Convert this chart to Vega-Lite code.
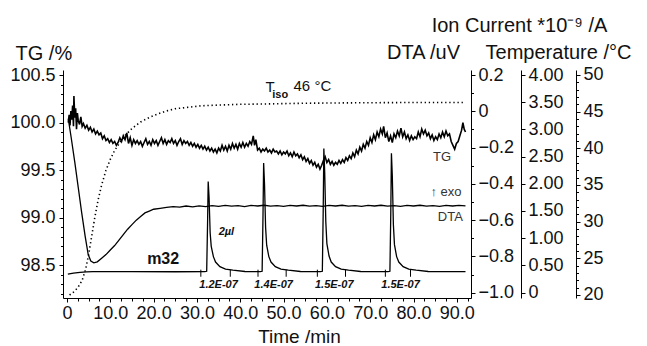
{
  "$schema": "https://vega.github.io/schema/vega-lite/v6.json",
  "width": 408,
  "height": 228,
  "autosize": {"type": "none"},
  "padding": {"left": 63, "top": 70, "right": 176, "bottom": 48},
  "background": "white",
  "config": {
    "view": {"stroke": null},
    "font": "Liberation Sans",
    "axis": {
      "grid": false,
      "domainColor": "#000",
      "domainWidth": 1,
      "tickColor": "#000",
      "tickWidth": 1,
      "labelColor": "#111",
      "titleColor": "#111",
      "labelFont": "Liberation Sans",
      "titleFont": "Liberation Sans",
      "titleFontWeight": "normal",
      "labelFontSize": 18,
      "titleFontSize": 20,
      "labelFlush": false,
      "labelOverlap": false
    }
  },
  "datasets": {
    "tg": [
      {"t":0.3,"v":100.00},{"t":0.5,"v":100.08},{"t":0.7,"v":99.97},{"t":0.9,"v":100.12},{"t":1.1,"v":100.03},{"t":1.3,"v":100.18},{"t":1.5,"v":99.96},{"t":1.6,"v":100.28},{"t":1.8,"v":100.05},{"t":2.0,"v":100.15},{"t":2.2,"v":99.93},{"t":2.4,"v":100.10},{"t":2.6,"v":100.02},{"t":2.9,"v":99.98},{"t":3.2,"v":100.06},{"t":3.5,"v":99.96},{"t":3.8,"v":99.99},{"t":4.2,"v":99.94},{"t":4.6,"v":99.97},{"t":5.0,"v":99.92},{"t":5.4,"v":99.95},{"t":5.8,"v":99.90},{"t":6.2,"v":99.93},{"t":6.6,"v":99.88},{"t":7.0,"v":99.91},{"t":7.4,"v":99.87},{"t":7.8,"v":99.89},{"t":8.2,"v":99.83},{"t":8.6,"v":99.86},{"t":9.0,"v":99.81},{"t":9.4,"v":99.83},{"t":9.8,"v":99.79},{"t":10.2,"v":99.82},{"t":10.6,"v":99.78},{"t":11.0,"v":99.80},{"t":11.4,"v":99.76},{"t":11.8,"v":99.79},{"t":12.2,"v":99.84},{"t":12.6,"v":99.80},{"t":13.0,"v":99.86},{"t":13.4,"v":99.82},{"t":13.8,"v":99.89},{"t":14.2,"v":99.78},{"t":14.6,"v":99.84},{"t":15.0,"v":99.76},{"t":15.4,"v":99.82},{"t":15.8,"v":99.78},{"t":16.2,"v":99.81},{"t":16.6,"v":99.77},{"t":17.0,"v":99.80},{"t":17.4,"v":99.75},{"t":17.8,"v":99.79},{"t":18.2,"v":99.83},{"t":18.6,"v":99.77},{"t":19.0,"v":99.80},{"t":19.4,"v":99.76},{"t":19.8,"v":99.82},{"t":20.2,"v":99.78},{"t":20.6,"v":99.81},{"t":21.0,"v":99.76},{"t":21.4,"v":99.80},{"t":21.8,"v":99.84},{"t":22.2,"v":99.78},{"t":22.6,"v":99.82},{"t":23.0,"v":99.77},{"t":23.4,"v":99.81},{"t":23.8,"v":99.79},{"t":24.2,"v":99.83},{"t":24.6,"v":99.78},{"t":25.0,"v":99.81},{"t":25.4,"v":99.76},{"t":25.8,"v":99.80},{"t":26.2,"v":99.83},{"t":26.6,"v":99.77},{"t":27.0,"v":99.81},{"t":27.4,"v":99.78},{"t":27.8,"v":99.80},{"t":28.2,"v":99.76},{"t":28.6,"v":99.79},{"t":29.0,"v":99.75},{"t":29.4,"v":99.78},{"t":29.8,"v":99.74},{"t":30.2,"v":99.77},{"t":30.6,"v":99.73},{"t":31.0,"v":99.76},{"t":31.4,"v":99.72},{"t":31.8,"v":99.75},{"t":32.2,"v":99.71},{"t":32.6,"v":99.74},{"t":33.0,"v":99.70},{"t":33.4,"v":99.73},{"t":33.8,"v":99.69},{"t":34.2,"v":99.72},{"t":34.6,"v":99.68},{"t":35.0,"v":99.73},{"t":35.4,"v":99.70},{"t":35.8,"v":99.76},{"t":36.2,"v":99.71},{"t":36.6,"v":99.75},{"t":37.0,"v":99.70},{"t":37.4,"v":99.76},{"t":37.8,"v":99.72},{"t":38.2,"v":99.78},{"t":38.6,"v":99.73},{"t":39.0,"v":99.77},{"t":39.4,"v":99.72},{"t":39.8,"v":99.78},{"t":40.2,"v":99.74},{"t":40.6,"v":99.79},{"t":41.0,"v":99.74},{"t":41.4,"v":99.78},{"t":41.8,"v":99.75},{"t":42.2,"v":99.80},{"t":42.6,"v":99.77},{"t":43.0,"v":99.86},{"t":43.3,"v":99.76},{"t":43.6,"v":99.82},{"t":44.0,"v":99.71},{"t":44.4,"v":99.73},{"t":44.8,"v":99.69},{"t":45.2,"v":99.72},{"t":45.6,"v":99.70},{"t":46.0,"v":99.73},{"t":46.4,"v":99.69},{"t":46.8,"v":99.71},{"t":47.2,"v":99.68},{"t":47.6,"v":99.72},{"t":48.0,"v":99.69},{"t":48.4,"v":99.70},{"t":48.8,"v":99.67},{"t":49.2,"v":99.70},{"t":49.6,"v":99.66},{"t":50.0,"v":99.69},{"t":50.4,"v":99.67},{"t":50.8,"v":99.70},{"t":51.2,"v":99.65},{"t":51.6,"v":99.68},{"t":52.0,"v":99.64},{"t":52.4,"v":99.69},{"t":52.8,"v":99.65},{"t":53.2,"v":99.67},{"t":53.6,"v":99.63},{"t":54.0,"v":99.66},{"t":54.4,"v":99.61},{"t":54.8,"v":99.64},{"t":55.2,"v":99.59},{"t":55.6,"v":99.62},{"t":56.0,"v":99.57},{"t":56.4,"v":99.60},{"t":56.8,"v":99.55},{"t":57.2,"v":99.58},{"t":57.6,"v":99.53},{"t":58.0,"v":99.56},{"t":58.4,"v":99.51},{"t":58.8,"v":99.55},{"t":59.2,"v":99.60},{"t":59.6,"v":99.64},{"t":60.0,"v":99.58},{"t":60.4,"v":99.61},{"t":60.8,"v":99.56},{"t":61.2,"v":99.59},{"t":61.6,"v":99.55},{"t":62.0,"v":99.58},{"t":62.4,"v":99.56},{"t":62.8,"v":99.60},{"t":63.2,"v":99.57},{"t":63.6,"v":99.61},{"t":64.0,"v":99.58},{"t":64.4,"v":99.63},{"t":64.8,"v":99.60},{"t":65.2,"v":99.65},{"t":65.6,"v":99.62},{"t":66.0,"v":99.68},{"t":66.4,"v":99.64},{"t":66.8,"v":99.71},{"t":67.2,"v":99.67},{"t":67.6,"v":99.74},{"t":68.0,"v":99.70},{"t":68.4,"v":99.77},{"t":68.8,"v":99.73},{"t":69.2,"v":99.80},{"t":69.6,"v":99.76},{"t":70.0,"v":99.84},{"t":70.4,"v":99.79},{"t":70.8,"v":99.87},{"t":71.2,"v":99.82},{"t":71.6,"v":99.90},{"t":72.0,"v":99.85},{"t":72.4,"v":99.93},{"t":72.8,"v":99.88},{"t":73.1,"v":99.96},{"t":73.5,"v":99.84},{"t":73.9,"v":99.89},{"t":74.3,"v":99.80},{"t":74.7,"v":99.86},{"t":75.1,"v":99.79},{"t":75.5,"v":99.88},{"t":75.9,"v":99.84},{"t":76.3,"v":99.91},{"t":76.7,"v":99.86},{"t":77.1,"v":99.94},{"t":77.5,"v":99.85},{"t":77.9,"v":99.90},{"t":78.3,"v":99.83},{"t":78.7,"v":99.87},{"t":79.1,"v":99.81},{"t":79.5,"v":99.86},{"t":79.9,"v":99.82},{"t":80.3,"v":99.85},{"t":80.7,"v":99.83},{"t":81.1,"v":99.90},{"t":81.5,"v":99.85},{"t":81.9,"v":99.93},{"t":82.3,"v":99.88},{"t":82.7,"v":99.92},{"t":83.1,"v":99.86},{"t":83.5,"v":99.89},{"t":83.9,"v":99.83},{"t":84.3,"v":99.87},{"t":84.7,"v":99.81},{"t":85.1,"v":99.85},{"t":85.5,"v":99.82},{"t":85.9,"v":99.88},{"t":86.3,"v":99.84},{"t":86.7,"v":99.90},{"t":87.1,"v":99.85},{"t":87.5,"v":99.91},{"t":87.9,"v":99.86},{"t":88.3,"v":99.88},{"t":88.7,"v":99.80},{"t":89.1,"v":99.76},{"t":89.5,"v":99.72},{"t":89.9,"v":99.78},{"t":90.3,"v":99.80},{"t":90.7,"v":99.86},{"t":91.1,"v":99.92},{"t":91.4,"v":100.00},{"t":91.7,"v":99.93},{"t":92.0,"v":99.90}
    ],
    "dta": [
      {"t":0.3,"v":-0.04},{"t":1.0,"v":-0.15},{"t":1.8,"v":-0.28},{"t":2.6,"v":-0.42},{"t":3.4,"v":-0.56},{"t":4.2,"v":-0.69},{"t":4.9,"v":-0.79},{"t":5.5,"v":-0.825},{"t":6.2,"v":-0.835},{"t":7.0,"v":-0.83},{"t":8.0,"v":-0.81},{"t":9.0,"v":-0.79},{"t":10.0,"v":-0.765},{"t":11.0,"v":-0.74},{"t":12.0,"v":-0.71},{"t":13.0,"v":-0.68},{"t":14.0,"v":-0.65},{"t":15.0,"v":-0.625},{"t":16.0,"v":-0.6},{"t":17.0,"v":-0.58},{"t":18.0,"v":-0.56},{"t":19.0,"v":-0.55},{"t":20.0,"v":-0.54},{"t":21.5,"v":-0.535},{"t":23.0,"v":-0.53},{"t":24.5,"v":-0.525},{"t":26.0,"v":-0.528},{"t":27.5,"v":-0.522},{"t":29.0,"v":-0.527},{"t":30.5,"v":-0.521},{"t":32.0,"v":-0.525},{"t":33.5,"v":-0.52},{"t":35.0,"v":-0.524},{"t":36.5,"v":-0.519},{"t":38.0,"v":-0.523},{"t":39.5,"v":-0.52},{"t":41.0,"v":-0.525},{"t":42.5,"v":-0.519},{"t":44.0,"v":-0.522},{"t":45.5,"v":-0.518},{"t":47.0,"v":-0.523},{"t":48.5,"v":-0.52},{"t":50.0,"v":-0.524},{"t":51.5,"v":-0.519},{"t":53.0,"v":-0.522},{"t":54.5,"v":-0.518},{"t":56.0,"v":-0.523},{"t":57.5,"v":-0.52},{"t":59.0,"v":-0.524},{"t":60.5,"v":-0.519},{"t":62.0,"v":-0.522},{"t":63.5,"v":-0.518},{"t":65.0,"v":-0.523},{"t":66.5,"v":-0.52},{"t":68.0,"v":-0.524},{"t":69.5,"v":-0.519},{"t":71.0,"v":-0.522},{"t":72.5,"v":-0.518},{"t":74.0,"v":-0.523},{"t":75.5,"v":-0.52},{"t":77.0,"v":-0.524},{"t":78.5,"v":-0.519},{"t":80.0,"v":-0.522},{"t":81.5,"v":-0.518},{"t":83.0,"v":-0.523},{"t":84.5,"v":-0.52},{"t":86.0,"v":-0.524},{"t":87.5,"v":-0.519},{"t":89.0,"v":-0.522},{"t":90.5,"v":-0.519},{"t":92.0,"v":-0.521}
    ],
    "temp": [
      {"t":0.6,"v":20.0},{"t":1.5,"v":20.4},{"t":2.5,"v":21.0},{"t":3.5,"v":22.0},{"t":4.3,"v":23.5},{"t":5.0,"v":25.5},{"t":5.7,"v":28.0},{"t":6.4,"v":30.5},{"t":7.2,"v":33.0},{"t":8.0,"v":35.0},{"t":9.0,"v":37.0},{"t":10.0,"v":38.5},{"t":11.0,"v":39.7},{"t":12.2,"v":40.8},{"t":13.5,"v":41.8},{"t":15.0,"v":42.7},{"t":17.0,"v":43.6},{"t":19.0,"v":44.2},{"t":21.0,"v":44.7},{"t":23.0,"v":45.1},{"t":25.0,"v":45.4},{"t":28.0,"v":45.6},{"t":31.0,"v":45.8},{"t":35.0,"v":45.9},{"t":40.0,"v":46.0},{"t":46.0,"v":46.05},{"t":55.0,"v":46.15},{"t":65.0,"v":46.2},{"t":80.0,"v":46.25},{"t":92.0,"v":46.25}
    ],
    "ion": [
      {"t":0.2,"v":0.34},{"t":1.5,"v":0.355},{"t":3.0,"v":0.372},{"t":4.5,"v":0.38},{"t":6.0,"v":0.383},{"t":15.0,"v":0.384},{"t":25.0,"v":0.382},{"t":31.8,"v":0.383},
      {"t":32.25,"v":0.39},{"t":32.45,"v":1.25},{"t":32.6,"v":2.04},{"t":32.8,"v":1.75},{"t":33.05,"v":1.1},{"t":33.3,"v":0.85},{"t":33.8,"v":0.66},{"t":34.3,"v":0.56},{"t":35.3,"v":0.475},{"t":36.6,"v":0.43},{"t":38.3,"v":0.41},{"t":41.1,"v":0.386},{"t":44.6,"v":0.383},
      {"t":45.05,"v":0.39},{"t":45.25,"v":1.4},{"t":45.4,"v":2.38},{"t":45.6,"v":2.0},{"t":45.85,"v":1.2},{"t":46.1,"v":0.87},{"t":46.6,"v":0.66},{"t":47.1,"v":0.56},{"t":48.1,"v":0.475},{"t":49.4,"v":0.43},{"t":51.1,"v":0.41},{"t":53.9,"v":0.386},{"t":58.5,"v":0.383},
      {"t":58.95,"v":0.39},{"t":59.15,"v":1.5},{"t":59.3,"v":2.65},{"t":59.5,"v":2.2},{"t":59.75,"v":1.3},{"t":60.0,"v":0.9},{"t":60.5,"v":0.67},{"t":61.0,"v":0.56},{"t":62.0,"v":0.475},{"t":63.3,"v":0.43},{"t":65.0,"v":0.41},{"t":67.8,"v":0.386},{"t":74.1,"v":0.383},
      {"t":74.55,"v":0.39},{"t":74.75,"v":1.45},{"t":74.9,"v":2.56},{"t":75.1,"v":2.15},{"t":75.35,"v":1.25},{"t":75.6,"v":0.88},{"t":76.1,"v":0.66},{"t":76.6,"v":0.56},{"t":77.6,"v":0.475},{"t":78.9,"v":0.43},{"t":80.6,"v":0.41},{"t":83.4,"v":0.386},{"t":92.0,"v":0.383}
    ],
    "ionlimits": [
      {"t":30.9},{"t":37.7},{"t":44.1},{"t":50.6},{"t":57.8},{"t":64.3},{"t":73.5},{"t":79.3}
    ],
    "peaklabels": [
      {"t":35.0,"v":0.138,"label":"1.2E-07"},
      {"t":47.7,"v":0.138,"label":"1.4E-07"},
      {"t":61.7,"v":0.138,"label":"1.5E-07"},
      {"t":77.0,"v":0.138,"label":"1.5E-07"}
    ],
    "ionnotes": [{"t":36.8,"v":1.11,"label":"2µl"}],
    "m32": [{"t":22.2,"v":0.616,"label":"m32"}],
    "curvenotes": [
      {"t":86.6,"v":99.64,"label":"TG"},
      {"t":87.5,"v":99.272,"label":"↑ exo"},
      {"t":88.5,"v":99.008,"label":"DTA"}
    ],
    "tiso_big": [
      {"t":45.8,"v":100.374,"label":"T"},
      {"t":52.3,"v":100.384,"label":"46 °C"}
    ],
    "tiso_sub": [{"t":47.4,"v":100.29,"label":"iso"}]
  },
  "encoding": {
    "x": {
      "field": "t",
      "type": "quantitative",
      "scale": {"domain": [-0.92, 93.27], "nice": false, "zero": false},
      "axis": {
        "values": [0,2.5,5,7.5,10,12.5,15,17.5,20,22.5,25,27.5,30,32.5,35,37.5,40,42.5,45,47.5,50,52.5,55,57.5,60,62.5,65,67.5,70,72.5,75,77.5,80,82.5,85,87.5,90,92.5],
        "labelExpr": "datum.value % 10 == 0 ? (datum.value == 0 ? '0' : format(datum.value, '.1f')) : ''",
        "tickSize": {"condition": {"test": "datum.value % 10 == 0", "value": 4}, "value": 3},
        "labelFontSize": 18,
        "labelPadding": 2,
        "title": "Time /min",
        "titleFontSize": 19,
        "titleX": 236,
        "titleY": 44,
        "titleAlign": "center",
        "titleBaseline": "alphabetic"
      }
    }
  },
  "layer": [
    {
      "data": {"name": "tg"},
      "mark": {"type": "line", "color": "#000", "strokeWidth": 1.6},
      "encoding": {
        "y": {
          "field": "v", "type": "quantitative",
          "scale": {"domain": [98.153, 100.553], "nice": false, "zero": false},
          "axis": {
            "orient": "left",
            "values": [98.2,98.3,98.4,98.5,98.6,98.7,98.8,98.9,99.0,99.1,99.2,99.3,99.4,99.5,99.6,99.7,99.8,99.9,100.0,100.1,100.2,100.3,100.4,100.5],
            "labelExpr": "abs(datum.value*2 - round(datum.value*2)) < 0.001 ? format(datum.value, '.1f') : ''",
            "tickSize": {"condition": {"test": "abs(datum.value*2 - round(datum.value*2)) < 0.001", "value": 4}, "value": 2.5},
            "labelPadding": 4,
            "title": "TG /%",
            "titleAngle": 0,
            "titleAlign": "left",
            "titleBaseline": "middle",
            "titleX": -48,
            "titleY": -17
          }
        }
      }
    },
    {
      "data": {"name": "dta"},
      "mark": {"type": "line", "color": "#000", "strokeWidth": 1.3},
      "encoding": {
        "y": {
          "field": "v", "type": "quantitative",
          "scale": {"domain": [-1.0292, 0.2276], "nice": false, "zero": false},
          "axis": {
            "orient": "right",
            "offset": 0,
            "values": [-1.0,-0.9,-0.8,-0.7,-0.6,-0.5,-0.4,-0.3,-0.2,-0.1,0,0.1,0.2],
            "labelExpr": "abs(datum.value*5 - round(datum.value*5)) < 0.001 ? (abs(datum.value) < 0.001 ? '0' : format(datum.value, '.1f')) : ''",
            "tickSize": {"condition": {"test": "abs(datum.value*5 - round(datum.value*5)) < 0.001", "value": 4}, "value": 2.5},
            "labelPadding": 3,
            "title": "DTA /uV",
            "titleAngle": 0,
            "titleAlign": "center",
            "titleBaseline": "middle",
            "titleX": -48,
            "titleY": -18
          }
        }
      }
    },
    {
      "data": {"name": "ion"},
      "mark": {"type": "line", "color": "#000", "strokeWidth": 1.3},
      "encoding": {
        "y": {
          "field": "v", "type": "quantitative",
          "scale": {"domain": [-0.101, 4.092], "nice": false, "zero": false},
          "axis": {
            "orient": "right",
            "offset": 50,
            "values": [0,0.5,1,1.5,2,2.5,3,3.5,4],
            "labelExpr": "datum.value == 0 ? '0' : format(datum.value, '.2f')",
            "tickSize": 4,
            "labelPadding": 3,
            "title": "Ion Current *10⁻⁹ /A",
            "titleAngle": 0,
            "titleAlign": "center",
            "titleBaseline": "middle",
            "titleX": -2,
            "titleY": -45
          }
        }
      }
    },
    {
      "data": {"name": "temp"},
      "mark": {"type": "line", "color": "#000", "strokeWidth": 1.6, "strokeDash": [1.3, 2.8]},
      "encoding": {
        "y": {
          "field": "v", "type": "quantitative",
          "scale": {"domain": [19.59, 50.68], "nice": false, "zero": false},
          "axis": {
            "orient": "right",
            "offset": 105,
            "values": [20,21,22,23,24,25,26,27,28,29,30,31,32,33,34,35,36,37,38,39,40,41,42,43,44,45,46,47,48,49,50],
            "labelExpr": "datum.value % 5 == 0 ? format(datum.value, 'd') : ''",
            "tickSize": {"condition": {"test": "datum.value % 5 == 0", "value": 4}, "value": 2.5},
            "labelPadding": 3,
            "title": "Temperature /°C",
            "titleAngle": 0,
            "titleAlign": "center",
            "titleBaseline": "middle",
            "titleX": -18,
            "titleY": -18
          }
        }
      }
    },
    {
      "data": {"name": "ionlimits"},
      "mark": {"type": "rule", "color": "#000", "strokeWidth": 1},
      "encoding": {
        "y": {"datum": 0.29, "type": "quantitative", "scale": {"domain": [-0.101, 4.092], "nice": false, "zero": false}, "axis": null},
        "y2": {"datum": 0.42}
      }
    },
    {
      "data": {"name": "peaklabels"},
      "mark": {"type": "text", "font": "Liberation Sans", "fontSize": 11, "fontWeight": "bold", "fontStyle": "italic", "color": "#111", "align": "center", "baseline": "middle"},
      "encoding": {
        "y": {"field": "v", "type": "quantitative", "scale": {"domain": [-0.101, 4.092], "nice": false, "zero": false}, "axis": null},
        "text": {"field": "label"}
      }
    },
    {
      "data": {"name": "ionnotes"},
      "mark": {"type": "text", "font": "Liberation Sans", "fontSize": 11, "fontWeight": "bold", "fontStyle": "italic", "color": "#111", "align": "center", "baseline": "middle"},
      "encoding": {
        "y": {"field": "v", "type": "quantitative", "scale": {"domain": [-0.101, 4.092], "nice": false, "zero": false}, "axis": null},
        "text": {"field": "label"}
      }
    },
    {
      "data": {"name": "m32"},
      "mark": {"type": "text", "font": "Liberation Sans", "fontSize": 16, "fontWeight": "bold", "color": "#111", "align": "center", "baseline": "middle"},
      "encoding": {
        "y": {"field": "v", "type": "quantitative", "scale": {"domain": [-0.101, 4.092], "nice": false, "zero": false}, "axis": null},
        "text": {"field": "label"}
      }
    },
    {
      "data": {"name": "curvenotes"},
      "mark": {"type": "text", "font": "Liberation Sans", "fontSize": 13, "color": "#333", "align": "center", "baseline": "middle"},
      "encoding": {
        "y": {"field": "v", "type": "quantitative", "scale": {"domain": [98.153, 100.553], "nice": false, "zero": false}, "axis": null},
        "text": {"field": "label"}
      }
    },
    {
      "data": {"name": "tiso_big"},
      "mark": {"type": "text", "font": "Liberation Sans", "fontSize": 15, "color": "#111", "align": "left", "baseline": "middle"},
      "encoding": {
        "y": {"field": "v", "type": "quantitative", "scale": {"domain": [98.153, 100.553], "nice": false, "zero": false}, "axis": null},
        "text": {"field": "label"}
      }
    },
    {
      "data": {"name": "tiso_sub"},
      "mark": {"type": "text", "font": "Liberation Sans", "fontSize": 11, "fontWeight": "bold", "color": "#111", "align": "left", "baseline": "middle"},
      "encoding": {
        "y": {"field": "v", "type": "quantitative", "scale": {"domain": [98.153, 100.553], "nice": false, "zero": false}, "axis": null},
        "text": {"field": "label"}
      }
    }
  ],
  "resolve": {"scale": {"y": "independent"}, "axis": {"y": "independent"}}
}
